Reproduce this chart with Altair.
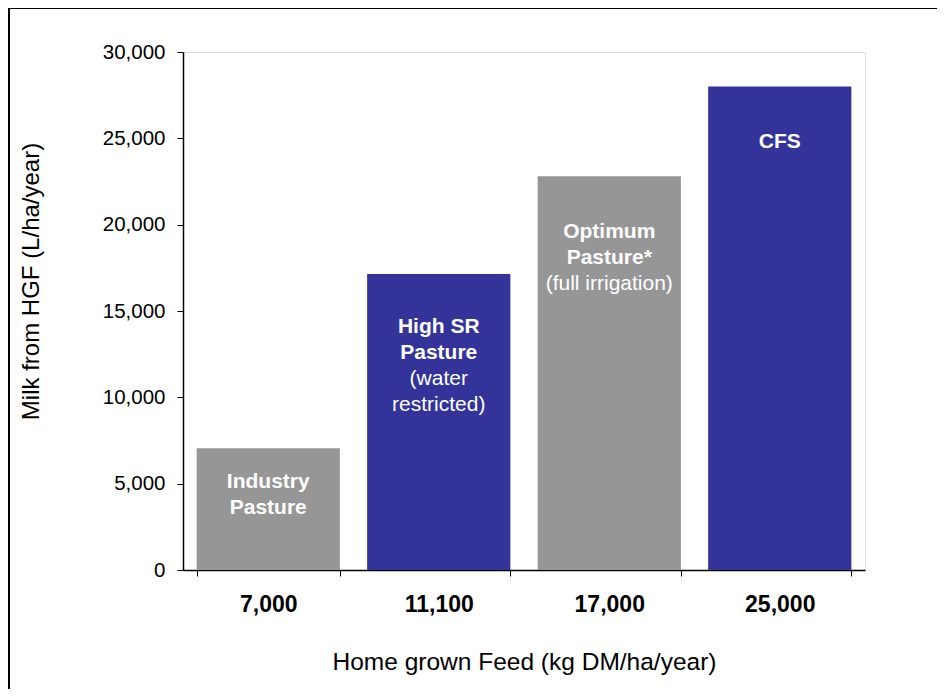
import altair as alt
import pandas as pd

# Data
categories = ["7,000", "11,100", "17,000", "25,000"]
values = [7050, 17150, 22800, 28000]
bar_colors = ["#969696", "#333399", "#969696", "#333399"]
y_ticks = [0, 5000, 10000, 15000, 20000, 25000, 30000]
label_lines = [
    [("Industry", True), ("Pasture", True)],
    [("High SR", True), ("Pasture", True), ("(water", False), ("restricted)", False)],
    [("Optimum", True), ("Pasture*", True), ("(full irrigation)", False)],
    [("CFS", True)],
]

# Layout / style
W, H = 682, 518
YMAX = 30000
first_offset_px = [34, 53, 56, 55]
line_gap_px = 26
FONT = "Liberation Sans"

bars = pd.DataFrame({"cat": categories, "val": values, "color": bar_colors})

rows = []
for cat, val, lines, off in zip(categories, values, label_lines, first_offset_px):
    for i, (txt, bold) in enumerate(lines):
        ypx = off + i * line_gap_px
        rows.append({"cat": cat, "txt": txt, "bold": bold,
                     "y": val - ypx * YMAX / H})
labels = pd.DataFrame(rows)

xscale = alt.Scale(domain=categories, paddingInner=0.16, paddingOuter=0.08)
yscale = alt.Scale(domain=[0, YMAX], nice=False)

base = alt.Chart(bars)

bar_layer = base.mark_bar().encode(
    x=alt.X("cat:N", scale=xscale, sort=categories,
            axis=alt.Axis(title="Home grown Feed (kg DM/ha/year)", labelAngle=0,
                          labelFontWeight="bold", labelFontSize=23, labelColor="black",
                          labelPadding=17, tickBand="extent", tickSize=6,
                          tickColor="black", domainColor="black", domainWidth=1.5,
                          titleFontSize=24.5, titleFontWeight="normal", titleColor="black",
                          titleX=W / 2, titleY=92, titleBaseline="middle")),
    y=alt.Y("val:Q", scale=yscale,
            axis=alt.Axis(title="Milk from HGF (L/ha/year)", values=y_ticks,
                          format=",.0f", grid=False, labelFontSize=20.5, labelColor="black",
                          labelPadding=12, tickSize=6, tickColor="black",
                          domainColor="black", domainWidth=1.5,
                          titleFontSize=24, titleFontWeight="normal", titleColor="black",
                          titleX=-152, titleY=229, titleBaseline="middle", titleAngle=-90)),
    color=alt.Color("color:N", scale=None),
)

lab = alt.Chart(labels)
bold_layer = lab.transform_filter("datum.bold").mark_text(
    color="white", fontWeight="bold", fontSize=21, baseline="middle", align="center", font=FONT
).encode(x=alt.X("cat:N", scale=xscale, sort=categories), y=alt.Y("y:Q", scale=yscale), text="txt:N")
norm_layer = lab.transform_filter("!datum.bold").mark_text(
    color="white", fontWeight="normal", fontSize=21, baseline="middle", align="center", font=FONT
).encode(x=alt.X("cat:N", scale=xscale, sort=categories), y=alt.Y("y:Q", scale=yscale), text="txt:N")

frame = alt.Chart(pd.DataFrame({"a": [0]})).mark_rect(
    fill=None, stroke="black", strokeWidth=2
).encode(x=alt.value(-174), x2=alt.value(900), y=alt.value(-44), y2=alt.value(800))

chart = alt.layer(frame, bar_layer, bold_layer, norm_layer).properties(
    width=W, height=H,
    autosize=alt.AutoSizeParams(type="none"),
    padding={"left": 175, "top": 44, "right": 72, "bottom": 119},
).configure_view(stroke="#707070", strokeWidth=1.5).configure(font=FONT)

chart.save("out.html", embed_options={"renderer": "svg", "actions": False})
